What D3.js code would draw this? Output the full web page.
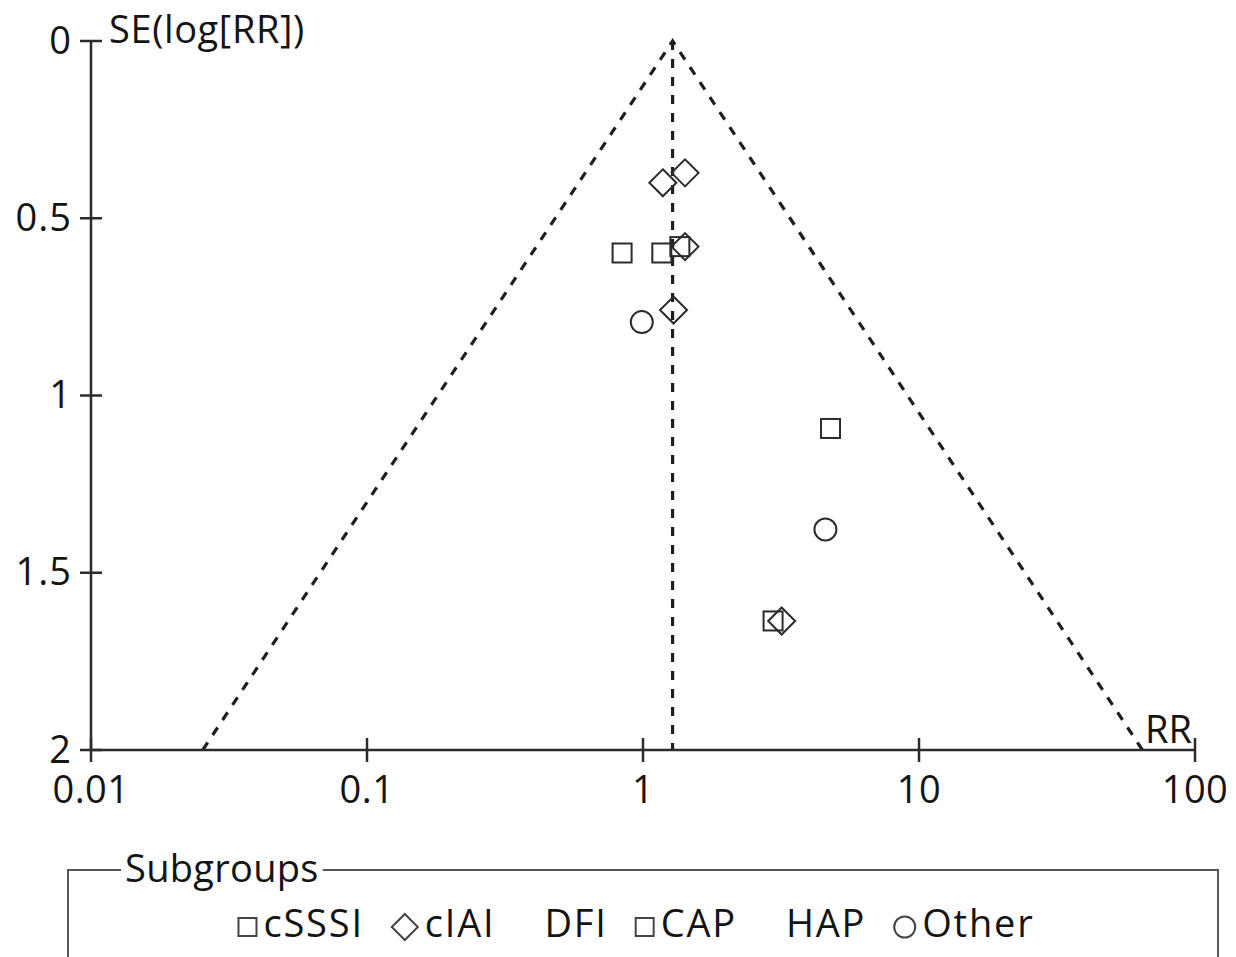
<!DOCTYPE html>
<html>
<head>
<meta charset="utf-8">
<script src="https://cdn.jsdelivr.net/npm/d3@7"></script>
<style>
  html, body { margin: 0; padding: 0; background: #fff; }
  svg { display: block; }
  text { font-family: "Open Sans", "Noto Sans", sans-serif; fill: #141414; }
</style>
</head>
<body>
<svg id="chart" width="1236" height="957"></svg>
<script>
// Funnel plot of risk ratios by subgroup
const pooledRR = 1.28;
const zCrit = 1.96;

const xTicks = [0.01, 0.1, 1, 10, 100];
const xTickLabels = ["0.01", "0.1", "1", "10", "100"];
const yTicks = [0, 0.5, 1, 1.5, 2];
const yTickLabels = ["0", "0.5", "1", "1.5", "2"];

// Study estimates: risk ratio and standard error of log RR
const cSSSI_rr = [0.84, 1.17, 4.78];
const cSSSI_se = [0.598, 0.598, 1.093];
const cIAI_rr = [1.18, 1.42, 1.42, 1.29, 3.18];
const cIAI_se = [0.400, 0.372, 0.580, 0.759, 1.636];
const CAP_rr = [1.36, 2.96];
const CAP_se = [0.580, 1.636];
const Other_rr = [0.99, 4.58];
const Other_se = [0.793, 1.378];

const legendLabels = ["cSSSI", "cIAI", "DFI", "CAP", "HAP", "Other"];
const legendSymbols = ["square", "diamond", null, "square", null, "circle"];

const svg = d3.select("#chart");
const ink = "#2b2b2b";

const x = d3.scaleLog().domain([0.01, 100]).range([91, 1195]);
const y = d3.scaleLinear().domain([0, 2]).range([41, 750]);

// Marker shapes
function drawMarker(g, kind, cx, cy, s) {
  if (kind === "square") {
    g.append("rect").attr("x", cx - s.sq / 2).attr("y", cy - s.sq / 2)
      .attr("width", s.sq).attr("height", s.sq);
  } else if (kind === "diamond") {
    const h = s.dm / 2;
    g.append("path").attr("d", `M${cx},${cy - h}L${cx + h},${cy}L${cx},${cy + h}L${cx - h},${cy}Z`);
  } else if (kind === "circle") {
    g.append("circle").attr("cx", cx).attr("cy", cy).attr("r", s.ci / 2);
  }
}

// Funnel (pseudo 95% confidence limits) and pooled estimate line
const seMax = y.domain()[1];
const lo = Math.exp(Math.log(pooledRR) - zCrit * seMax);
const hi = Math.exp(Math.log(pooledRR) + zCrit * seMax);
const funnel = svg.append("g").attr("fill", "none").attr("stroke", "#1e1e1e")
  .attr("stroke-width", 3.2).attr("stroke-dasharray", "9,9");
funnel.append("path").attr("d", d3.line()([[x(lo), y(seMax)], [x(pooledRR), y(0)], [x(hi), y(seMax)]]));
funnel.append("line").attr("x1", x(pooledRR)).attr("x2", x(pooledRR))
  .attr("y1", y(0)).attr("y2", y(seMax));

// Axes
const axes = svg.append("g").attr("stroke", ink).attr("stroke-width", 2.5);
axes.append("line").attr("x1", x.range()[0]).attr("x2", x.range()[0]).attr("y1", y(0)).attr("y2", y(seMax));
axes.append("line").attr("x1", x.range()[0]).attr("x2", x.range()[1]).attr("y1", y(seMax)).attr("y2", y(seMax));
yTicks.forEach(v => {
  axes.append("line").attr("x1", x.range()[0] - 11).attr("x2", x.range()[0] + 11)
    .attr("y1", y(v)).attr("y2", y(v));
});
xTicks.forEach(v => {
  axes.append("line").attr("x1", x(v)).attr("x2", x(v))
    .attr("y1", y(seMax) - 12).attr("y2", y(seMax) + 12);
});

const fs = 38;
yTicks.forEach((v, i) => {
  svg.append("text").attr("x", x.range()[0] - 19).attr("y", y(v)).attr("dy", "0.33em")
    .attr("text-anchor", "end").attr("font-size", fs).attr("letter-spacing", 1)
    .text(yTickLabels[i]);
});
xTicks.forEach((v, i) => {
  svg.append("text").attr("x", x(v)).attr("y", y(seMax) + 53)
    .attr("text-anchor", "middle").attr("font-size", fs).attr("letter-spacing", 0.5)
    .text(xTickLabels[i]);
});
svg.append("text").attr("x", 109).attr("y", 43).attr("font-size", fs)
  .attr("letter-spacing", 0.6).text("SE(log[RR])");
svg.append("text").attr("x", 1192).attr("y", 743).attr("text-anchor", "end")
  .attr("font-size", fs).text("RR");

// Study points
const pts = svg.append("g").attr("fill", "none").attr("stroke", ink).attr("stroke-width", 2);
const plotSize = { sq: 19, dm: 27, ci: 22 };
const groups = [
  ["square", cSSSI_rr, cSSSI_se],
  ["diamond", cIAI_rr, cIAI_se],
  ["square", CAP_rr, CAP_se],
  ["circle", Other_rr, Other_se]
];
groups.forEach(([kind, rr, se]) => {
  rr.forEach((v, i) => drawMarker(pts, kind, x(v), y(se[i]), plotSize));
});

// Legend box
const box = { left: 68, right: 1218, top: 870, bottom: 1000 };
const lg = svg.append("g");
const title = lg.append("text").attr("x", 125).attr("y", box.top + 12)
  .attr("font-size", fs).attr("letter-spacing", 0.3).text("Subgroups");
const tw = title.node().getComputedTextLength();
lg.append("path").attr("fill", "none").attr("stroke", "#555").attr("stroke-width", 2)
  .attr("d", `M${125 + tw + 4},${box.top}H${box.right}V${box.bottom}H${box.left}V${box.top}H${121}`);

// Legend entries, laid out in one centred row
const legSize = { sq: 18, dm: 26, ci: 21 };
const row = lg.append("g");
const rowG = row.append("g").attr("fill", "none").attr("stroke", "#444").attr("stroke-width", 2);
const baseline = 937, midY = 927;
let cx = 0;
legendLabels.forEach((lab, i) => {
  const kind = legendSymbols[i];
  if (i > 0) cx += kind ? 28 : 49;
  if (kind) {
    const w = kind === "square" ? legSize.sq : kind === "diamond" ? legSize.dm : legSize.ci;
    drawMarker(rowG, kind, cx + w / 2, midY, legSize);
    cx += w + 7;
  }
  const t = row.append("text").attr("x", cx).attr("y", baseline).attr("font-size", fs)
    .attr("letter-spacing", 1.8).text(lab);
  cx += t.node().getComputedTextLength();
});
const rowWidth = cx;
row.attr("transform", `translate(${636.5 - rowWidth / 2},0)`);
</script>
</body>
</html>
